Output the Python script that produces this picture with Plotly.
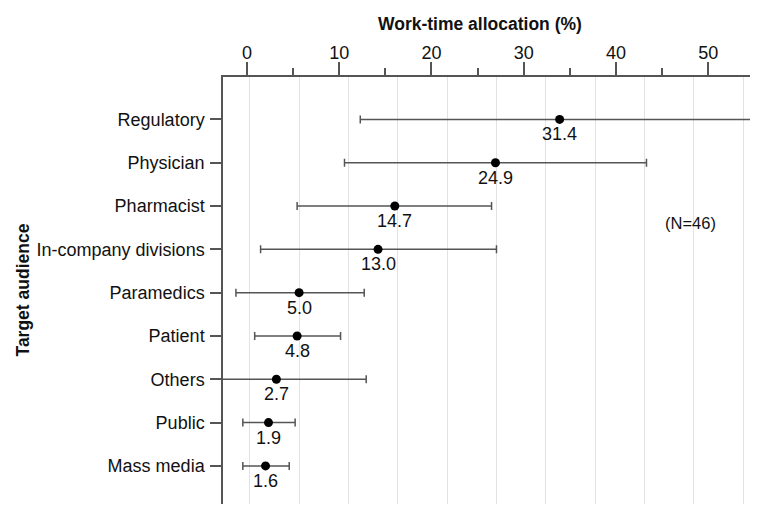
import plotly.graph_objects as go

categories = ["Regulatory", "Physician", "Pharmacist", "In-company divisions",
              "Paramedics", "Patient", "Others", "Public", "Mass media"]
values = [31.4, 24.9, 14.7, 13.0, 5.0, 4.8, 2.7, 1.9, 1.6]
lower = [11.2, 9.6, 4.8, 1.1, -1.4, 0.5, -4.0, -0.7, -0.7]
upper = [55.0, 40.2, 24.5, 25.0, 11.6, 9.2, 11.8, 4.6, 4.0]
value_labels = ["31.4", "24.9", "14.7", "13.0", "5.0", "4.8", "2.7", "1.9", "1.6"]
top_ticks = [0, 10, 20, 30, 40, 50]

FONT = "Arial, Liberation Sans, sans-serif"
TXT = "#111111"
n = len(categories)
ypos = [n - 1 - i for i in range(n)]

# plot area in screen px: x 223..758, y 77..504 (page has 8px body margin)
PW, PH = 535, 427

fig = go.Figure()
fig.add_trace(go.Scatter(
    x=values, y=ypos, mode="markers",
    marker=dict(color="black", size=9),
    error_x=dict(type="data",
                 array=[u - v for u, v in zip(upper, values)],
                 arrayminus=[v - l for v, l in zip(values, lower)],
                 color="#555555", thickness=1.5, width=4),
    xaxis="x", yaxis="y", showlegend=False, hoverinfo="skip",
))
# invisible trace on top axis so it renders
fig.add_trace(go.Scatter(x=[0], y=[0], mode="markers", marker=dict(opacity=0),
                         xaxis="x2", yaxis="y", showlegend=False, hoverinfo="skip"))

for v, y, t in zip(values, ypos, value_labels):
    fig.add_annotation(x=v, y=y, xref="x", yref="y", text=t, showarrow=False,
                       yshift=-15, font=dict(family=FONT, size=18, color=TXT))

fig.add_annotation(x=44.7, y=5.61, xref="x", yref="y", text="(N=46)", showarrow=False,
                   font=dict(family=FONT, size=16.5, color=TXT))
fig.add_annotation(x=(480 - 223) / PW, y=1 + (77 - 24) / PH, xref="paper", yref="paper",
                   xanchor="center", yanchor="middle",
                   text="<b>Work-time allocation (%)</b>", showarrow=False,
                   font=dict(family=FONT, size=17.5, color=TXT))
fig.add_annotation(x=(22 - 223) / PW, y=0.5, xref="paper", yref="paper",
                   xanchor="center", yanchor="middle",
                   text="<b>Target audience</b>", showarrow=False, textangle=-90,
                   font=dict(family=FONT, size=17.5, color=TXT))

fig.update_layout(
    width=750, height=498,
    margin=dict(l=215, r=0, t=69, b=2),
    plot_bgcolor="white", paper_bgcolor="white",
    font=dict(family=FONT, size=18, color=TXT),
    xaxis=dict(range=[-2.71, 51.5], showgrid=True, gridcolor="#e2e2e2", gridwidth=1,
               tick0=0, dtick=5, showticklabels=False, ticks="", zeroline=False,
               showline=False, fixedrange=True, automargin=False),
    xaxis2=dict(range=[-2.6, 55.4], overlaying="x", side="top", anchor="y",
                tickvals=top_ticks, ticktext=[str(t) for t in top_ticks],
                ticks="outside", ticklen=13, tickwidth=1.5, tickcolor="#555555",
                showline=True, linecolor="#555555", linewidth=1.5,
                showgrid=False, zeroline=False, automargin=False,
                ticklabelstandoff=-4,
                minor=dict(tickvals=[5, 15, 25, 35, 45, 55], ticks="outside",
                           ticklen=7, tickwidth=1.5, tickcolor="#555555", showgrid=False),
                tickfont=dict(family=FONT, size=18, color=TXT)),
    yaxis=dict(range=[-0.88, 8.98], tickvals=ypos, ticktext=categories,
               ticks="outside", ticklen=11, tickwidth=1.5, tickcolor="#555555",
               showline=True, linecolor="#555555", linewidth=1.5,
               showgrid=False, zeroline=False, automargin=False,
               ticklabelstandoff=2,
               tickfont=dict(family=FONT, size=18, color=TXT)),
)

fig.write_html("out.html")
